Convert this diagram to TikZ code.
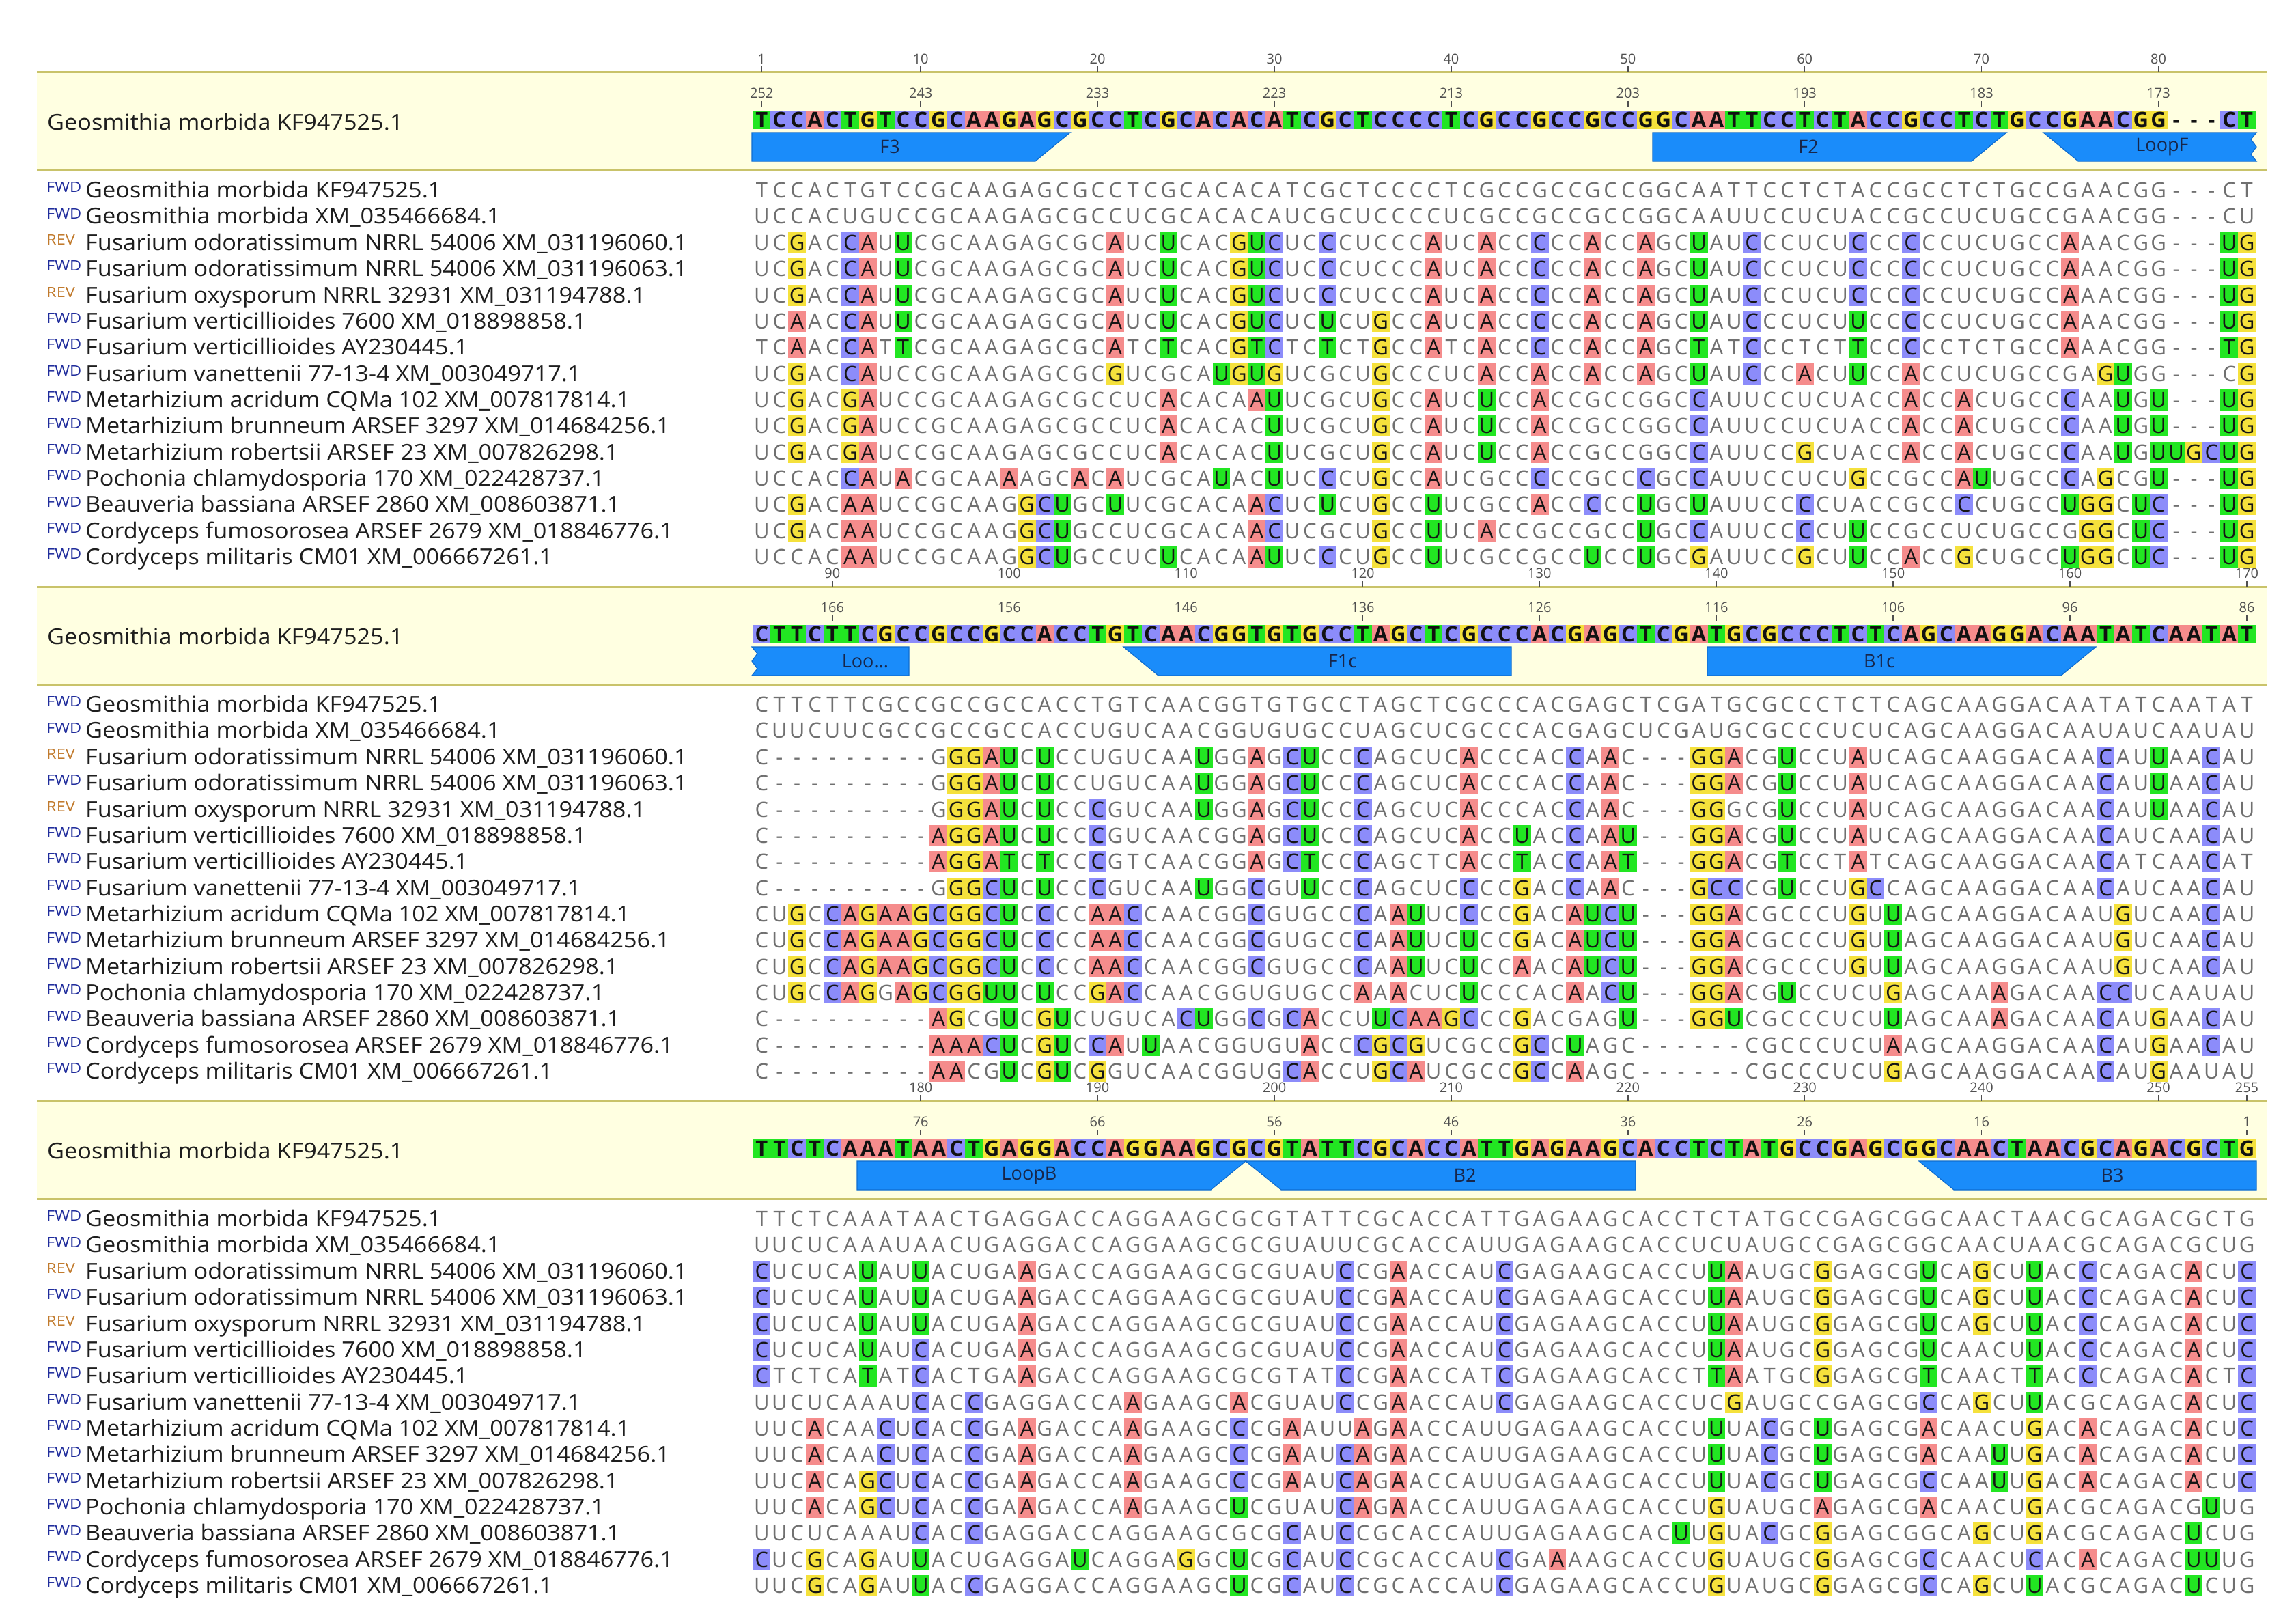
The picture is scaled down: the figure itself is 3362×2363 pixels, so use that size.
\documentclass[tikz,border=0pt]{standalone}
\usepackage{fontspec}
\setmainfont{Open Sans}
\usepackage{tikz}
\usetikzlibrary{positioning}

\definecolor{baseA}{HTML}{F58C8C}
\definecolor{baseC}{HTML}{8C8CFA}
\definecolor{baseG}{HTML}{F5E13C}
\definecolor{baseT}{HTML}{22E622}
\colorlet{baseU}{baseT}
\definecolor{headtext}{HTML}{111111}
\definecolor{hitext}{HTML}{151515}
\definecolor{seqgray}{HTML}{707070}
\definecolor{namegray}{HTML}{1E1E1E}
\definecolor{rulergray}{HTML}{505050}
\definecolor{tagFWD}{HTML}{1F2C9C}
\definecolor{tagREV}{HTML}{C17A2C}
\definecolor{bandfill}{HTML}{FFFFE1}
\definecolor{bandline}{HTML}{C9C36A}
\definecolor{annotfill}{HTML}{1A8CFA}
\definecolor{annotedge}{HTML}{0F6CCF}
\definecolor{annottext}{HTML}{17264A}

% aligned sequences, 255 columns each (spaces are dropped)
\ExplSyntaxOn
\tl_const:cn {seqref} {
  TCCACTGTCC GCAAGAGCGC CTCGCACACA TCGCTCCCCT CGCCGCCGCC GGCAATTCCT CTACCGCCTC TGCCGAACGG ---CT
  CTTCTTCGCC GCCGCCACCT GTCAACGGTG TGCCTAGCTC GCCCACGAGC TCGATGCGCC CTCTCAGCAA GGACAATATC AATAT
  TTCTCAAATA ACTGAGGACC AGGAAGCGCG TATTCGCACC ATTGAGAAGC ACCTCTATGC CGAGCGGCAA CTAACGCAGA CGCTG }
\tl_const:cn {seqgmxm} {
  UCCACUGUCC GCAAGAGCGC CUCGCACACA UCGCUCCCCU CGCCGCCGCC GGCAAUUCCU CUACCGCCUC UGCCGAACGG ---CU
  CUUCUUCGCC GCCGCCACCU GUCAACGGUG UGCCUAGCUC GCCCACGAGC UCGAUGCGCC CUCUCAGCAA GGACAAUAUC AAUAU
  UUCUCAAAUA ACUGAGGACC AGGAAGCGCG UAUUCGCACC AUUGAGAAGC ACCUCUAUGC CGAGCGGCAA CUAACGCAGA CGCUG }
\tl_const:cn {seqfodA} {
  UCGACCAUUC GCAAGAGCGC AUCUCACGUC UCCCUCCCAU CACCCCCACC AGCUAUCCCU CUCCCCCCUC UGCCAAACGG ---UG
  C--------- GGGAUCUCCU GUCAAUGGAG CUCCCAGCUC ACCCACCAAC ---GGACGUC CUAUCAGCAA GGACAACAUU AACAU
  CUCUCAUAUU ACUGAAGACC AGGAAGCGCG UAUCCGAACC AUCGAGAAGC ACCUUAAUGC GGAGCGUCAG CUUACCCAGA CACUC }
\tl_const:cn {seqfodB} {
  UCGACCAUUC GCAAGAGCGC AUCUCACGUC UCCCUCCCAU CACCCCCACC AGCUAUCCCU CUCCCCCCUC UGCCAAACGG ---UG
  C--------- GGGAUCUCCU GUCAAUGGAG CUCCCAGCUC ACCCACCAAC ---GGACGUC CUAUCAGCAA GGACAACAUU AACAU
  CUCUCAUAUU ACUGAAGACC AGGAAGCGCG UAUCCGAACC AUCGAGAAGC ACCUUAAUGC GGAGCGUCAG CUUACCCAGA CACUC }
\tl_const:cn {seqfoxy} {
  UCGACCAUUC GCAAGAGCGC AUCUCACGUC UCCCUCCCAU CACCCCCACC AGCUAUCCCU CUCCCCCCUC UGCCAAACGG ---UG
  C--------- GGGAUCUCCC GUCAAUGGAG CUCCCAGCUC ACCCACCAAC ---GGGCGUC CUAUCAGCAA GGACAACAUU AACAU
  CUCUCAUAUU ACUGAAGACC AGGAAGCGCG UAUCCGAACC AUCGAGAAGC ACCUUAAUGC GGAGCGUCAG CUUACCCAGA CACUC }
\tl_const:cn {seqfvA} {
  UCAACCAUUC GCAAGAGCGC AUCUCACGUC UCUCUGCCAU CACCCCCACC AGCUAUCCCU CUUCCCCCUC UGCCAAACGG ---UG
  C--------- AGGAUCUCCC GUCAACGGAG CUCCCAGCUC ACCUACCAAU ---GGACGUC CUAUCAGCAA GGACAACAUC AACAU
  CUCUCAUAUC ACUGAAGACC AGGAAGCGCG UAUCCGAACC AUCGAGAAGC ACCUUAAUGC GGAGCGUCAA CUUACCCAGA CACUC }
\tl_const:cn {seqfvB} {
  TCAACCATTC GCAAGAGCGC ATCTCACGTC TCTCTGCCAT CACCCCCACC AGCTATCCCT CTTCCCCCTC TGCCAAACGG ---TG
  C--------- AGGATCTCCC GTCAACGGAG CTCCCAGCTC ACCTACCAAT ---GGACGTC CTATCAGCAA GGACAACATC AACAT
  CTCTCATATC ACTGAAGACC AGGAAGCGCG TATCCGAACC ATCGAGAAGC ACCTTAATGC GGAGCGTCAA CTTACCCAGA CACTC }
\tl_const:cn {seqfvan} {
  UCGACCAUCC GCAAGAGCGC GUCGCAUGUG UCGCUGCCCU CACCACCACC AGCUAUCCCA CUUCCACCUC UGCCGAGUGG ---CG
  C--------- GGGCUCUCCC GUCAAUGGCG UUCCCAGCUC CCCGACCAAC ---GCCCGUC CUGCCAGCAA GGACAACAUC AACAU
  UUCUCAAAUC ACCGAGGACC AAGAAGCACG UAUCCGAACC AUCGAGAAGC ACCUCGAUGC CGAGCGCCAG CUUACGCAGA CACUC }
\tl_const:cn {seqmacr} {
  UCGACGAUCC GCAAGAGCGC CUCACACAAU UCGCUGCCAU CUCCACCGCC GGCCAUUCCU CUACCACCAC UGCCCAAUGU ---UG
  CUGCCAGAAG CGGCUCCCCA ACCAACGGCG UGCCCAAUUC CCCGACAUCU ---GGACGCC CUGUUAGCAA GGACAAUGUC AACAU
  UUCACAACUC ACCGAAGACC AAGAAGCCCG AAUUAGAACC AUUGAGAAGC ACCUUUACGC UGAGCGACAA CUGACACAGA CACUC }
\tl_const:cn {seqmbru} {
  UCGACGAUCC GCAAGAGCGC CUCACACACU UCGCUGCCAU CUCCACCGCC GGCCAUUCCU CUACCACCAC UGCCCAAUGU ---UG
  CUGCCAGAAG CGGCUCCCCA ACCAACGGCG UGCCCAAUUC UCCGACAUCU ---GGACGCC CUGUUAGCAA GGACAAUGUC AACAU
  UUCACAACUC ACCGAAGACC AAGAAGCCCG AAUCAGAACC AUUGAGAAGC ACCUUUACGC UGAGCGACAA UUGACACAGA CACUC }
\tl_const:cn {seqmrob} {
  UCGACGAUCC GCAAGAGCGC CUCACACACU UCGCUGCCAU CUCCACCGCC GGCCAUUCCG CUACCACCAC UGCCCAAUGU UGCUG
  CUGCCAGAAG CGGCUCCCCA ACCAACGGCG UGCCCAAUUC UCCAACAUCU ---GGACGCC CUGUUAGCAA GGACAAUGUC AACAU
  UUCACAGCUC ACCGAAGACC AAGAAGCCCG AAUCAGAACC AUUGAGAAGC ACCUUUACGC UGAGCGCCAA UUGACACAGA CACUC }
\tl_const:cn {seqpchl} {
  UCCACCAUAC GCAAAAGCAC AUCGCAUACU UCCCUGCCAU CGCCCCCGCC CGCCAUUCCU CUGCCGCCAU UGCCCAGCGU ---UG
  CUGCCAGGAG CGGUUCUCCG ACCAACGGUG UGCCAAACUC UCCCACAACU ---GGACGUC CUCUGAGCAA AGACAACCUC AAUAU
  UUCACAGCUC ACCGAAGACC AAGAAGCUCG UAUCAGAACC AUUGAGAAGC ACCUGUAUGC AGAGCGACAA CUGACGCAGA CGUUG }
\tl_const:cn {seqbbas} {
  UCGACAAUCC GCAAGGCUGC UUCGCACAAC UCUCUGCCUU CGCCACCCCC UGCUAUUCCC CUACCGCCCC UGCCUGGCUC ---UG
  C--------- AGCGUCGUCU GUCACUGGCG CACCUUCAAG CCCGACGAGU ---GGUCGCC CUCUUAGCAA AGACAACAUG AACAU
  UUCUCAAAUC ACCGAGGACC AGGAAGCGCG CAUCCGCACC AUUGAGAAGC ACUUGUACGC GGAGCGGCAG CUGACGCAGA CUCUG }
\tl_const:cn {seqcfum} {
  UCGACAAUCC GCAAGGCUGC CUCGCACAAC UCGCUGCCUU CACCGCCGCC UGCCAUUCCC CUUCCGCCUC UGCCGGGCUC ---UG
  C--------- AAACUCGUCC AUUAACGGUG UACCCGCGUC GCCGCCUAGC ------CGCC CUCUAAGCAA GGACAACAUG AACAU
  CUCGCAGAUU ACUGAGGAUC AGGAGGCUCG CAUCCGCACC AUCGAAAAGC ACCUGUAUGC GGAGCGCCAA CUCACACAGA CUUUG }
\tl_const:cn {seqcmil} {
  UCCACAAUCC GCAAGGCUGC CUCUCACAAU UCCCUGCCUU CGCCGCCUCC UGCGAUUCCG CUUCCACCGC UGCCUGGCUC ---UG
  C--------- AACGUCGUCG GUCAACGGUG CACCUGCAUC GCCGCCAAGC ------CGCC CUCUGAGCAA GGACAACAUG AAUAU
  UUCGCAGAUU ACCGAGGACC AGGAAGCUCG CAUCCGCACC AUCGAGAAGC ACCUGUAUGC GGAGCGCCAG CUUACGCAGA CUCUG }

\cs_new:Npn \basenorm #1 { \str_if_eq:eeTF {#1} {U} {T} {#1} }
% fill colour and text colour of one cell
\cs_new_protected:Npn \basefill #1#2#3
  {
    \int_compare:nNnTF {#3} = {1}
      {
        \def\btext{headtext}
        \str_if_eq:eeTF {#1} {-} { \def\bfill{none} } { \edef\bfill{base#1} }
      }
      {
        \str_if_eq:eeTF {#1} {-}
          { \def\bfill{none} \def\btext{seqgray} }
          {
            \str_if_eq:eeTF { \basenorm{#1} } { \basenorm{#2} }
              { \def\bfill{none} \def\btext{seqgray} }
              { \edef\bfill{base#1} \def\btext{hitext} }
          }
      }
  }
% one block line of 85 cells: #1 sequence, #2 block, #3 1 = consensus
\tl_new:N \g_seqrow_tl
\cs_new_protected:Npn \seqrow #1#2#3
  {
    \tl_gclear:N \g_seqrow_tl
    \int_step_inline:nn {85}
      {
        \tl_set:Nx \l_tmpa_tl { \tl_item:cn {seq#1} { 85*(#2)+##1 } }
        \tl_set:Nx \l_tmpb_tl { \tl_item:cn {seqref} { 85*(#2)+##1 } }
        \basefill { \l_tmpa_tl } { \l_tmpb_tl } {#3}
        \tl_gput_right:Nx \g_seqrow_tl
          { \exp_not:N \seqcell {\bfill} {\btext} {\l_tmpa_tl} {#3} }
      }
  }
\cs_new:Npn \seqrowtext { \g_seqrow_tl }
\ExplSyntaxOff
\def\nofill{none}

% one cell: #1 fill, #2 text colour, #3 base, #4 1 = consensus
\newcommand{\seqcell}[4]{%
  \def\cellfill{#1}%
  \ifx\cellfill\nofill\else
    \ifnum#4=1
      \rlap{\color{#1}\rule[-2.5pt]{25.89pt}{27pt}}%
    \else
      \rlap{\color{#1}\rule[-4.5pt]{25.89pt}{31pt}}%
    \fi
  \fi
  \hbox to 25.89pt{\hss\color{#2}\ifnum#4=1 \bfseries\fi#3\hss}%
}

% ruler numbers: #1 column, #2 block, #3 number on the sequence (may be empty)
\newcommand{\rulermark}[3]{%
  \pgfmathsetmacro{\rx}{1115.2+(#1-85*#2-1)*25.89}%
  \pgfmathsetmacro{\ry}{753*#2}%
  \node[rulernum] (top#1) at (\rx,{\ry+86}) {#1};
  \draw[rulertick] (\rx,{\ry+97}) -- (\rx,{\ry+106});
  \ifx\relax#3\relax\else
    \node[rulernum] (in#1) at (\rx,{\ry+136}) {#3};
    \draw[rulertick] (\rx,{\ry+148}) -- (\rx,{\ry+156});
  \fi
}

\begin{document}
\begin{tikzpicture}[x=1pt, y=-1pt,
    seqtext/.style={anchor=base west, inner sep=0pt, font=\fontsize{31}{31}\selectfont},
    rulernum/.style={inner sep=0pt, text=rulergray, font=\fontsize{20}{20}\selectfont},
    rulertick/.style={draw=rulergray, line width=1.5pt},
    bandedge/.style={draw=bandline, line width=3pt},
    headname/.style={anchor=base west, inner sep=0pt, xscale=1.07, text=namegray, font=\fontsize{32}{32}\selectfont},
    seqname/.style={anchor=base west, inner sep=0pt, xscale=1.07, text=namegray, font=\fontsize{32}{32}\selectfont},
    dirtag/.style={anchor=north west, inner sep=0pt, xscale=1.12, font=\fontsize{21}{21}\selectfont},
    annot/.style={fill=annotfill, draw=annotedge, line width=1.2pt},
    annotlabel/.style={inner sep=0pt, text=annottext, font=\fontsize{27}{27}\selectfont}]

  \useasboundingbox (0,0) rectangle (3362,2363);
  \fill[white] (0,0) rectangle (3362,2363);

  \foreach \b in {0,1,2} {
    \begin{scope}[shift={(0,{753*\b})}]
      \fill[bandfill] (54,106) rectangle (3319,249);
      \draw[bandedge] (54,106) -- (3319,106);
      \draw[bandedge] (54,249) -- (3319,249);
      \node[headname] (head\b) at (69,190) {Geosmithia morbida KF947525.1};
      \seqrow{ref}{\b}{1}
      \node[seqtext] (cons\b) at (1102.25,186.5) {\seqrowtext};
      \foreach \r/\tg/\key/\nm in {
          1/FWD/ref/{Geosmithia morbida KF947525.1},
          2/FWD/gmxm/{Geosmithia morbida XM\_035466684.1},
          3/REV/fodA/{Fusarium odoratissimum NRRL 54006 XM\_031196060.1},
          4/FWD/fodB/{Fusarium odoratissimum NRRL 54006 XM\_031196063.1},
          5/REV/foxy/{Fusarium oxysporum NRRL 32931 XM\_031194788.1},
          6/FWD/fvA/{Fusarium verticillioides 7600 XM\_018898858.1},
          7/FWD/fvB/{Fusarium verticillioides AY230445.1},
          8/FWD/fvan/{Fusarium vanettenii 77-13-4 XM\_003049717.1},
          9/FWD/macr/{Metarhizium acridum CQMa 102 XM\_007817814.1},
          10/FWD/mbru/{Metarhizium brunneum ARSEF 3297 XM\_014684256.1},
          11/FWD/mrob/{Metarhizium robertsii ARSEF 23 XM\_007826298.1},
          12/FWD/pchl/{Pochonia chlamydosporia 170 XM\_022428737.1},
          13/FWD/bbas/{Beauveria bassiana ARSEF 2860 XM\_008603871.1},
          14/FWD/cfum/{Cordyceps fumosorosea ARSEF 2679 XM\_018846776.1},
          15/FWD/cmil/{Cordyceps militaris CM01 XM\_006667261.1}} {
        \pgfmathsetmacro{\yc}{278.6+(\r-1)*38.36}
        \node[dirtag, text=tag\tg] (tag\b-\r) at (68,{\yc-12}) {\tg};
        \node[seqname] (name\b-\r) at (125,{\yc+11}) {\nm};
        \seqrow{\key}{\b}{0}
        \node[seqtext] (row\b-\r) at (1102.25,{\yc+11}) {\seqrowtext};
      }
    \end{scope}
  }

  % rulers
  \foreach \c in {1,10,20,...,80} {\pgfmathtruncatemacro{\n}{253-\c}\rulermark{\c}{0}{\n}}
  \foreach \c in {90,100,...,170} {\pgfmathtruncatemacro{\n}{256-\c}\rulermark{\c}{1}{\n}}
  \foreach \c in {180,190,...,240} {\pgfmathtruncatemacro{\n}{256-\c}\rulermark{\c}{2}{\n}}
  \rulermark{250}{2}{}
  \rulermark{255}{2}{1}

  % primer annotations
  \filldraw[annot] (1101,194) -- (1567,194) -- (1516,236) -- (1101,236) -- cycle;
  \node[annotlabel] (f3) at (1303,215) {F3};
  \filldraw[annot] (2420,194) -- (2938,194) -- (2887,236) -- (2420,236) -- cycle;
  \node[annotlabel] (f2) at (2648,215) {F2};
  \filldraw[annot] (2992,194) -- (3304,194) -- (3296,204) -- (3304,215) -- (3296,226)
    -- (3304,236) -- (3043,236) -- cycle;
  \node[annotlabel] (loopf) at (3166,215) {LoopF};

  \begin{scope}[shift={(0,753)}]
    \filldraw[annot] (1101,194) -- (1331,194) -- (1331,236) -- (1101,236) -- (1109,226)
      -- (1101,215) -- (1109,204) -- cycle;
    \node[annotlabel] (loopcut) at (1267,215) {Loo...};
    \filldraw[annot] (1645,194) -- (2213,194) -- (2213,236) -- (1696,236) -- cycle;
    \node[annotlabel] (f1c) at (1966,215) {F1c};
    \filldraw[annot] (2500,194) -- (3069,194) -- (3018,236) -- (2500,236) -- cycle;
    \node[annotlabel] (b1c) at (2752,215) {B1c};
  \end{scope}

  \begin{scope}[shift={(0,1506)}]
    \filldraw[annot] (1255,194) -- (1824,194) -- (1773,236) -- (1255,236) -- cycle;
    \node[annotlabel] (loopb) at (1507,215) {LoopB};
    \filldraw[annot] (1824,194) -- (2395,194) -- (2395,236) -- (1876,236) -- cycle;
    \node[annotlabel] (b2) at (2145,215) {B2};
    \filldraw[annot] (2810,194) -- (3304,194) -- (3304,236) -- (2861,236) -- cycle;
    \node[annotlabel] (b3) at (3093,215) {B3};
  \end{scope}
\end{tikzpicture}
\end{document}
